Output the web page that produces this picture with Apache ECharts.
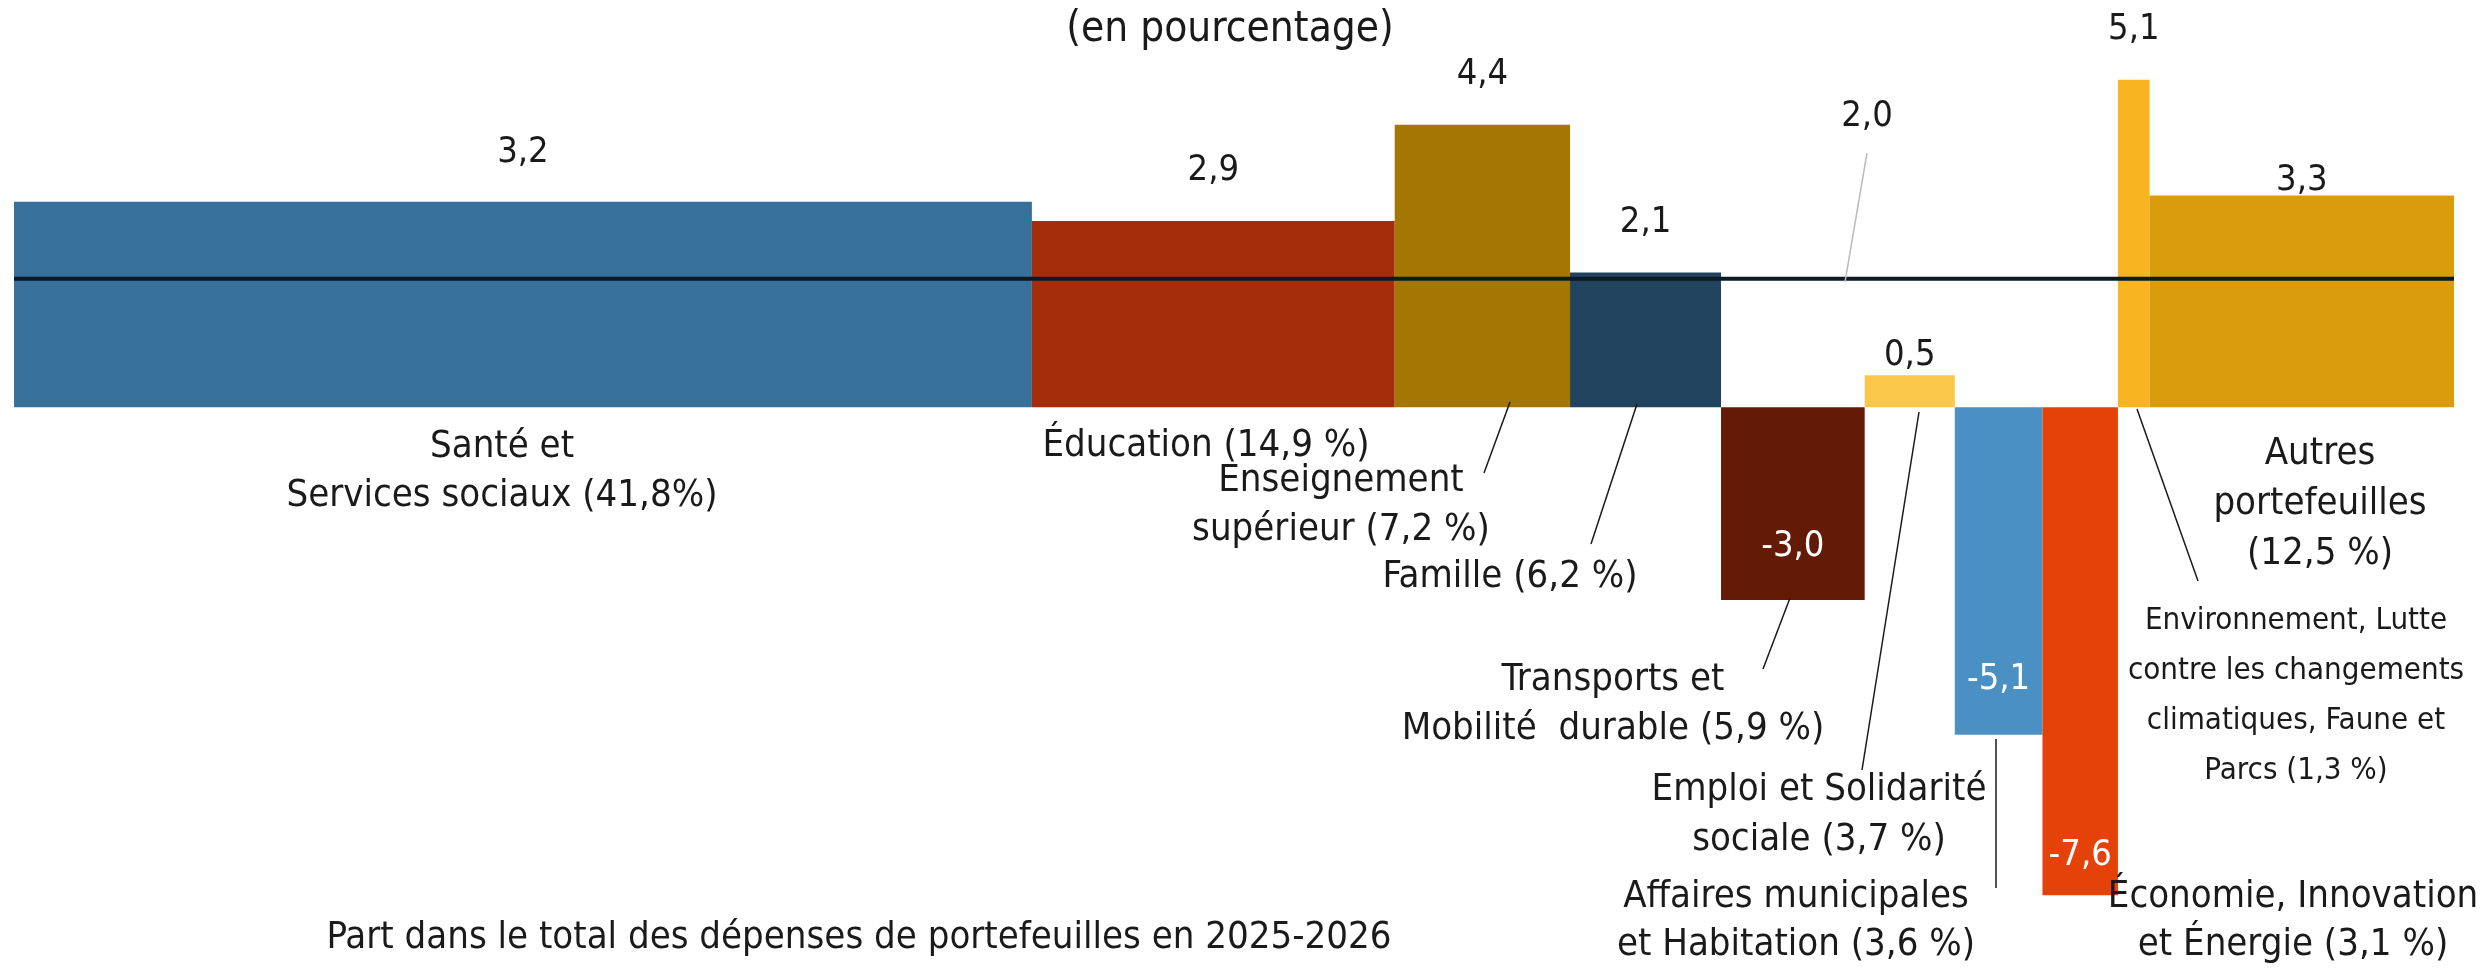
<!DOCTYPE html>
<html><head><meta charset="utf-8">
<script src="https://cdn.jsdelivr.net/npm/echarts@6/dist/echarts.min.js"></script>
<style>html,body{margin:0;padding:0;background:#fff}#c{width:2481px;height:968px}</style>
</head><body><div id="c"></div>
<script>
// ---- DATA ----
const categories = ['Santé et Services sociaux','Éducation','Enseignement supérieur','Famille','Transports et Mobilité durable','Emploi et Solidarité sociale','Affaires municipales et Habitation','Économie, Innovation et Énergie','Environnement, Lutte contre les changements climatiques, Faune et Parcs','Autres portefeuilles'];
const shares = [41.8, 14.9, 7.2, 6.2, 5.9, 3.7, 3.6, 3.1, 1.3, 12.5];
const growth = [3.2, 2.9, 4.4, 2.1, -3.0, 0.5, -5.1, -7.6, 5.1, 3.3];
const average = 2.0;
const valueLabels = ['3,2','2,9','4,4','2,1','-3,0','0,5','-5,1','-7,6','5,1','3,3'];
const averageLabel = '2,0';
const categoryLabels = [
  'Santé et\nServices sociaux (41,8%)',
  'Éducation (14,9 %)',
  'Enseignement\nsupérieur (7,2 %)',
  'Famille (6,2 %)',
  'Transports et\nMobilité  durable (5,9 %)',
  'Emploi et Solidarité\nsociale (3,7 %)',
  'Affaires municipales\net Habitation (3,6 %)',
  'Économie, Innovation\net Énergie (3,1 %)',
  'Environnement, Lutte\ncontre les changements\nclimatiques, Faune et\nParcs (1,3 %)',
  'Autres\nportefeuilles\n(12,5 %)'
];
const unitNote = '(en pourcentage)';
const axisTitle = 'Part dans le total des dépenses de portefeuilles en 2025-2026';

// ---- STYLE / LAYOUT ----
const colors = ['#36709B','#A52D09','#A47704','#21435E','#641B05','#FAC74A','#4A90C2','#E5420A','#F9B422','#DA9C0A'];
const labelOffset = [49, 50, 50, 50, 53, 20, 55, 40, 50, 15]; // positive: above top; negative: above bottom
const FONT = "'Liberation Sans Narrow','DejaVu Sans Condensed','Roboto Condensed',Lato,sans-serif";
const TXT = '#1a1a1a';

let acc = 0;
const barData = shares.map((s, i) => { const d = [acc, acc + s, growth[i], i]; acc += s; return d; });
const total = acc;

const catLayout = [
  {x:502, y:472, lh:49, fs:38},
  {x:1206, y:446, lh:49, fs:38},
  {x:1341, y:506, lh:49, fs:38},
  {x:1510, y:577, lh:49, fs:38},
  {x:1613, y:705, lh:49, fs:38},
  {x:1819, y:815, lh:50, fs:38},
  {x:1796, y:921, lh:48, fs:38},
  {x:2293, y:921, lh:48, fs:38},
  {x:2296, y:696, lh:50, fs:31},
  {x:2320, y:504, lh:50, fs:38}
];
const leaders = [
  [1510,402,1484,473],[1637,404,1591,544],[1790,598,1763,669],[1919,412,1862,770],
  [1996,739,1996,888],[2137,409,2198,581]
];

const graphics = [];
categoryLabels.forEach((t, i) => {
  const L = catLayout[i];
  graphics.push({type:'text', x:L.x, y:L.y, z:10, style:{text:t, align:'center', verticalAlign:'middle', fontSize:L.fs, fontFamily:FONT, lineHeight:L.lh, fill:TXT}});
});
leaders.forEach(l => graphics.push({type:'line', z:10, shape:{x1:l[0],y1:l[1],x2:l[2],y2:l[3]}, style:{stroke:'#1a1a1a', lineWidth:1.5}}));
graphics.push({type:'line', z:10, shape:{x1:1867,y1:153,x2:1845,y2:282}, style:{stroke:'#bbbbbb', lineWidth:1.5}});
graphics.push({type:'text', x:1867, y:117, z:10, style:{text:averageLabel, align:'center', verticalAlign:'middle', fontSize:36, fontFamily:FONT, fill:TXT}});
graphics.push({type:'text', x:1230, y:30, z:10, style:{text:unitNote, align:'center', verticalAlign:'middle', fontSize:42, fontFamily:FONT, fill:TXT}});
graphics.push({type:'text', x:859, y:938, z:10, style:{text:axisTitle, align:'center', verticalAlign:'middle', fontSize:38, fontFamily:FONT, fill:TXT}});

const chart = echarts.init(document.getElementById('c'), null, {renderer:'canvas'});
chart.setOption({
  animation:false,
  backgroundColor:'#fff',
  grid:{left:14, right:27, top:22, bottom:47},
  xAxis:{type:'value', min:0, max:total, show:false},
  yAxis:{type:'value', min:-8, max:6, show:false},
  graphic:graphics,
  series:[
    {
      type:'custom',
      data:barData,
      renderItem:function(params, api){
        const x0 = api.value(0), x1 = api.value(1), v = api.value(2), i = api.value(3);
        const p0 = api.coord([x0, 0]), p1 = api.coord([x1, v]);
        const cx = (p0[0] + p1[0]) / 2;
        const ly = p1[1] - labelOffset[i];
        return {type:'group', children:[
          {type:'rect', shape:{x:p0[0], y:Math.min(p0[1],p1[1]), width:p1[0]-p0[0], height:Math.abs(p1[1]-p0[1])}, style:{fill:colors[i]}},
          {type:'text', x:cx, y:ly, z2:5, style:{text:valueLabels[i], align:'center', verticalAlign:'middle', fontSize:36, fontFamily:FONT, fill: v >= 0 ? TXT : '#ffffff'}}
        ]};
      }
    },
    {
      type:'line',
      data:[[0, average],[total, average]],
      symbol:'none',
      z:5,
      lineStyle:{color:'#0b1a24', width:4}
    }
  ]
});
</script></body></html>
